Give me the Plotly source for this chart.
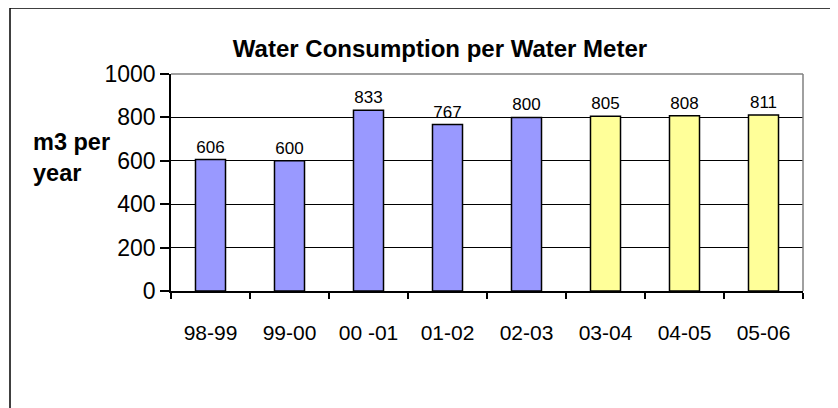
import plotly.graph_objects as go

seasons = ['98-99', '99-00', '00 -01', '01-02', '02-03', '03-04', '04-05', '05-06']
consumption = [606, 600, 833, 767, 800, 805, 808, 811]
bar_colors = ['#9999FF'] * 5 + ['#FFFF99'] * 3
y_ticks = [0, 200, 400, 600, 800, 1000]

FONT = 'Liberation Sans, Arial, sans-serif'

# page body has an 8px margin, so the figure itself starts at (8, 8)
OFF = 8
L, T, R, B = 171 - OFF, 74 - OFF, 803 - OFF, 291 - OFF
W, H = 838 - OFF, 408 - OFF
PW, PH = R - L, B - T


def px_x(p):
    return (p - OFF - L) / PW


def px_y(p):
    return (B - (p - OFF)) / PH


fig = go.Figure(go.Bar(
    x=seasons,
    y=consumption,
    width=0.38,
    marker=dict(color=bar_colors, line=dict(color='black', width=1.5)),
    text=[str(v) for v in consumption],
    textposition='outside',
    textfont=dict(family=FONT, size=17, color='black'),
    cliponaxis=False,
))

fig.update_layout(
    width=W,
    height=H,
    margin=dict(l=L, r=W - R, t=T, b=H - B),
    paper_bgcolor='white',
    plot_bgcolor='white',
    showlegend=False,
    font=dict(family=FONT, color='black'),
    title=dict(
        text='<b>Water Consumption per Water Meter</b>',
        font=dict(family=FONT, size=24, color='black'),
        x=(440 - OFF) / W, xref='container', xanchor='center',
        y=1 - (49 - OFF) / H, yref='container', yanchor='middle',
    ),
    xaxis=dict(
        type='category',
        showline=True, linecolor='black', linewidth=1.5,
        ticks='outside', tickson='boundaries', ticklen=6, tickcolor='black', tickwidth=1.5,
        tickfont=dict(family=FONT, size=21, color='black'),
        ticklabelstandoff=22,
        showgrid=False,
    ),
    yaxis=dict(
        range=[0, 1000],
        tickvals=y_ticks,
        showline=True, linecolor='black', linewidth=1.5,
        ticks='outside', ticklen=9, tickcolor='black', tickwidth=1.5,
        tickfont=dict(family=FONT, size=23, color='black'),
        showgrid=True, gridcolor='black', gridwidth=1.3,
        zeroline=False,
    ),
    annotations=[dict(
        text='<b>m3 per<br>year</b>',
        xref='paper', yref='paper',
        x=px_x(31), y=px_y(157.5),
        xanchor='left', yanchor='middle', align='left',
        showarrow=False,
        font=dict(family=FONT, size=23.5, color='black'),
    )],
    shapes=[
        # grey plot-area frame (top and right)
        dict(type='line', xref='paper', yref='paper', x0=0, x1=1, y0=1, y1=1,
             line=dict(color='#808080', width=1.5), layer='above'),
        dict(type='line', xref='paper', yref='paper', x0=1, x1=1, y0=0, y1=1,
             line=dict(color='#808080', width=1.5), layer='above'),
        # outer chart border (left and top, runs off the picture)
        dict(type='line', xref='paper', yref='paper',
             x0=px_x(10), x1=px_x(10), y0=px_y(8), y1=px_y(408),
             line=dict(color='black', width=1.5)),
        dict(type='line', xref='paper', yref='paper',
             x0=px_x(10), x1=px_x(838), y0=px_y(8), y1=px_y(8),
             line=dict(color='black', width=1.5)),
    ],
)

fig.write_html('out.html')
